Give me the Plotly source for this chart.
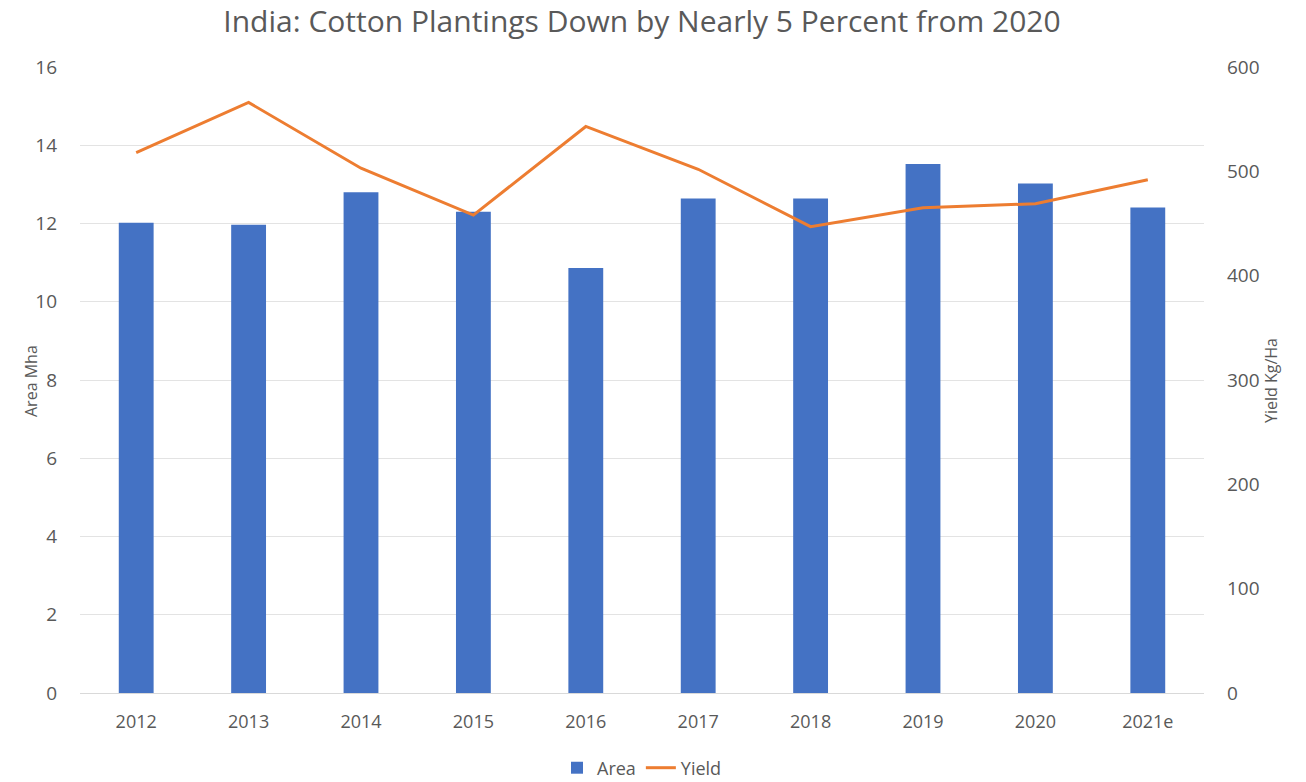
import plotly.graph_objects as go

years = ["2012", "2013", "2014", "2015", "2016", "2017", "2018", "2019", "2020", "2021e"]
area_mha = [12.02, 11.97, 12.80, 12.30, 10.86, 12.64, 12.64, 13.52, 13.02, 12.41]
yield_kg_ha = [518, 566, 503, 458, 543, 502, 447, 465, 469, 492]
left_ticks = list(range(0, 17, 2))
right_ticks = list(range(0, 601, 100))

FONT = "Open Sans"
GREY = "#595959"

fig = go.Figure()
fig.add_trace(go.Bar(x=years, y=area_mha, name="Area", marker=dict(color="#4472C4", line=dict(width=0)),
                     width=0.31, yaxis="y"))
fig.add_trace(go.Scatter(x=years, y=yield_kg_ha, name="Yield", mode="lines",
                         line=dict(color="#ED7D31", width=3), yaxis="y2"))

top, bottom, left, right = 67, 89, 80, 102
plot_w = 1306 - left - right
plot_h = 782 - top - bottom

fig.update_layout(
    width=1306, height=782,
    margin=dict(l=left, r=right, t=top, b=bottom, autoexpand=False),
    paper_bgcolor="white", plot_bgcolor="white",
    font=dict(family=FONT, color=GREY, size=18),
    title=dict(text="India: Cotton Plantings Down by Nearly 5 Percent from 2020",
               x=0.5, xref="paper", xanchor="center", y=0.973, yanchor="middle",
               font=dict(family=FONT, size=30, color=GREY)),
    xaxis=dict(type="category", showgrid=False, showline=True, linecolor="#D9D9D9", linewidth=1,
               ticks="", ticklabelstandoff=12, automargin=False, tickfont=dict(size=18, color=GREY)),
    yaxis=dict(range=[0, 16], tickvals=left_ticks, showgrid=True, gridcolor="#E3E3E3", gridwidth=1,
               zeroline=False, showline=False, ticks="", ticklabelstandoff=22, automargin=False,
               tickfont=dict(size=19, color=GREY)),
    yaxis2=dict(range=[0, 600], tickvals=right_ticks, overlaying="y", side="right", showgrid=False,
                zeroline=False, showline=False, ticks="", ticklabelstandoff=22, automargin=False,
                tickfont=dict(size=19, color=GREY)),
    legend=dict(orientation="h", x=0.5, xanchor="center", yref="container", y=1 - 768 / 782,
                yanchor="middle", font=dict(size=18, color=GREY), itemwidth=30, traceorder="normal"),
    annotations=[
        dict(text="Area Mha", textangle=-90, x=(18 - left) / plot_w, xref="paper",
             y=(782 - bottom - 381) / plot_h, yref="paper",
             showarrow=False, font=dict(size=16, color=GREY)),
        dict(text="Yield Kg/Ha", textangle=-90, x=(1284 - left) / plot_w, xref="paper",
             y=(782 - bottom - 381) / plot_h, yref="paper",
             showarrow=False, font=dict(size=16, color=GREY)),
    ],
)

fig.write_html("out.html")
